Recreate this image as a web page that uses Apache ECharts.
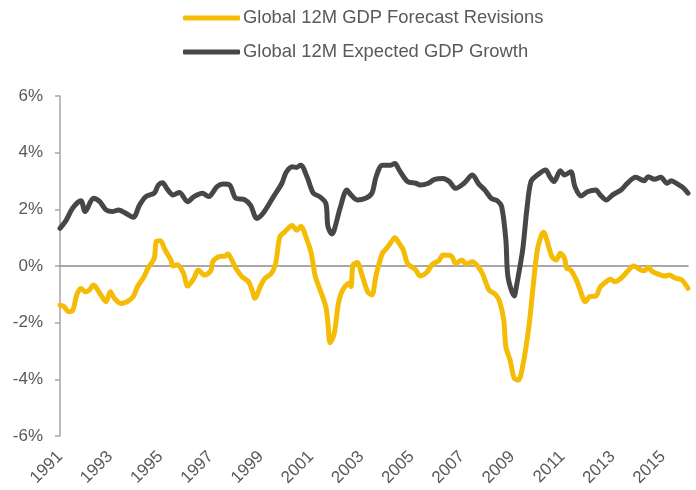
<!DOCTYPE html>
<html><head><meta charset="utf-8">
<script src="https://cdn.jsdelivr.net/npm/echarts@6/dist/echarts.min.js"></script>
<style>html,body{margin:0;padding:0;background:#fff}#c{width:696px;height:490px}</style>
</head><body><div id="c"></div>
<script>
// months since Jan 1991
const startYear = 1991;
const seriesNames = ['Global 12M GDP Forecast Revisions', 'Global 12M Expected GDP Growth'];
const revMonths = [0,2,4,6,8,10,12,14,16,19,22,24,26,29,32,35,37,40,42,45,46,48,50,53,54,56,59,61,64,66,69,72,73,76,79,80,84,87,90,92,93,96,98,101,103,105,107,111,113,115,118,120,122,124,127,128,129,131,133,135,138,139,140,142,144,147,149,151,154,156,158,160,162,164,166,169,170,172,175,178,181,183,187,189,192,194,197,200,202,205,208,210,212,213,215,217,219,221,224,226,228,230,231,233,235,237,239,241,242,244,247,248,251,253,256,258,260,263,265,268,271,274,277,279,281,283,287,289,291,294,297,300];
const revValues = [-1.38,-1.44,-1.61,-1.58,-1.02,-0.79,-0.91,-0.85,-0.67,-0.96,-1.26,-0.91,-1.14,-1.32,-1.26,-1.08,-0.73,-0.40,-0.08,0.27,0.86,0.89,0.59,0.21,0.00,0.04,-0.26,-0.71,-0.43,-0.14,-0.32,-0.17,0.15,0.33,0.35,0.42,-0.08,-0.38,-0.55,-0.91,-1.14,-0.67,-0.43,-0.26,0.09,1.03,1.18,1.43,1.26,1.40,0.92,0.45,-0.38,-0.79,-1.44,-2.02,-2.71,-2.38,-1.32,-0.85,-0.61,-0.73,0.04,0.12,-0.26,-0.91,-1.02,-0.32,0.45,0.62,0.82,1.00,0.80,0.56,0.09,-0.08,-0.14,-0.35,-0.24,0.07,0.19,0.39,0.35,0.09,0.21,0.07,0.15,-0.05,-0.30,-0.85,-1.00,-1.25,-1.91,-2.85,-3.32,-3.96,-4.02,-3.55,-2.14,-0.73,0.56,1.09,1.19,0.80,0.33,0.21,0.45,0.27,-0.08,-0.14,-0.55,-0.75,-1.26,-1.08,-1.06,-0.75,-0.61,-0.47,-0.55,-0.43,-0.20,0.00,-0.12,-0.17,-0.05,-0.20,-0.32,-0.35,-0.32,-0.43,-0.49,-0.79];
const growthMonths = [0,3,6,10,12,16,19,22,25,28,31,35,38,41,45,47,49,51,54,57,61,64,68,71,75,78,81,84,88,91,94,97,102,106,108,111,113,115,118,121,124,127,128,130,131,134,137,139,142,146,149,151,154,158,160,162,166,170,172,176,179,183,186,189,193,197,200,203,206,209,211,213,214,217,218,221,223,225,228,232,234,236,239,241,244,246,249,252,256,258,261,264,268,271,275,279,281,284,287,290,292,295,298,300];
const growthValues = [1.33,1.62,2.04,2.30,1.92,2.39,2.27,1.98,1.92,1.98,1.88,1.72,2.15,2.45,2.57,2.86,2.94,2.74,2.51,2.59,2.27,2.45,2.57,2.45,2.80,2.89,2.86,2.39,2.35,2.15,1.68,1.86,2.45,2.92,3.30,3.50,3.48,3.56,3.15,2.57,2.45,2.21,1.39,1.13,1.27,2.09,2.68,2.51,2.33,2.39,2.57,3.15,3.56,3.56,3.62,3.39,2.98,2.92,2.86,2.92,3.06,3.09,2.98,2.74,2.92,3.21,2.90,2.68,2.39,2.30,2.09,0.92,-0.38,-1.06,-0.73,0.56,1.98,2.98,3.21,3.39,3.15,2.98,3.36,3.21,3.33,2.80,2.47,2.62,2.68,2.51,2.33,2.51,2.68,2.92,3.13,3.01,3.15,3.06,3.13,2.92,3.01,2.89,2.74,2.57];
const yMin = -6, yMax = 6, yStep = 2;
const xMax = 300, xStep = 24;

const pair = (ms, vs) => ms.map((m, i) => [m, vs[i]]);
const txt = '#595959';
const font = '"Liberation Sans", Arial, sans-serif';

const chart = echarts.init(document.getElementById('c'), null, {renderer: 'canvas'});
chart.setOption({
  animation: false,
  backgroundColor: '#fff',
  textStyle: {fontFamily: font},
  legend: {
    orient: 'vertical', left: 178, top: 3,
    itemWidth: 57, itemHeight: 5, itemGap: 14,
    icon: 'roundRect',
    textStyle: {fontSize: 18.4, lineHeight: 20, color: txt, fontFamily: font, padding: [0,0,0,-2]},
    data: seriesNames
  },
  grid: {left: 60, right: 8, top: 96, bottom: 54, containLabel: false},
  xAxis: [{
    type: 'value', min: 0, max: xMax, interval: xStep,
    axisLine: {show: false, onZero: false}, axisTick: {show: false}, splitLine: {show: false},
    axisLabel: {
      rotate: 45, fontSize: 17, color: txt, fontFamily: font, margin: 18,
      showMaxLabel: false,
      formatter: v => (v % xStep === 0 && v < xMax) ? String(startYear + v / 12) : ''
    }
  }, {
    type: 'value', min: 0, max: xMax, position: 'bottom',
    axisLine: {show: true, onZero: true, lineStyle: {color: '#8C8C8C', width: 1.5}},
    axisTick: {show: false}, axisLabel: {show: false}, splitLine: {show: false}
  }],
  yAxis: {
    type: 'value', min: yMin, max: yMax, interval: yStep,
    axisLine: {show: true, lineStyle: {color: '#A6A6A6', width: 1.5}},
    axisTick: {show: true, length: 5, lineStyle: {color: '#A6A6A6', width: 1.5}},
    splitLine: {show: false},
    axisLabel: {fontSize: 17, color: txt, fontFamily: font, margin: 17, formatter: v => v + '%'}
  },
  series: [{
    name: seriesNames[1], type: 'line', xAxisIndex: 0,
    data: pair(growthMonths, growthValues),
    showSymbol: false, smooth: 0.3, color: '#474747',
    lineStyle: {width: 5, color: '#474747', cap: 'round', join: 'round'}
  }, {
    name: seriesNames[0], type: 'line', xAxisIndex: 0,
    data: pair(revMonths, revValues),
    showSymbol: false, smooth: 0.3, color: '#F5BC05',
    lineStyle: {width: 5, color: '#F5BC05', cap: 'round', join: 'round'}
  }]
});
</script></body></html>
